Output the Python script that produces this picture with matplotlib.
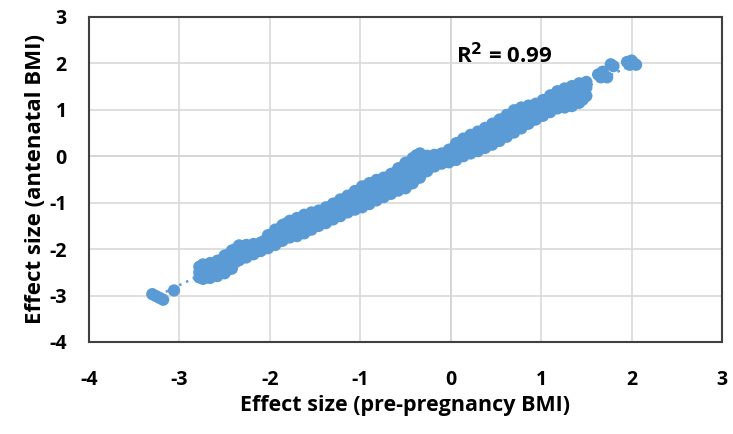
import matplotlib
matplotlib.use("Agg")
import matplotlib.pyplot as plt
import numpy as np

# isolated points at the low end
tail_x = [-3.30, -3.26, -3.22, -3.18, -3.06]
tail_y = [-2.97, -3.01, -3.05, -3.09, -2.89]

# main band: for each x, the upper, middle and lower points
band_x = [-2.78, -2.74, -2.70, -2.66, -2.62, -2.58, -2.54, -2.50, -2.46, -2.42,
          -2.38, -2.34, -2.30, -2.26, -2.22, -2.18, -2.14, -2.10, -2.06, -2.02,
          -1.98, -1.94, -1.90, -1.86, -1.82, -1.78, -1.74, -1.70, -1.66, -1.62,
          -1.58, -1.54, -1.50, -1.46, -1.42, -1.38, -1.34, -1.30, -1.26, -1.22,
          -1.18, -1.14, -1.10, -1.06, -1.02, -0.98, -0.94, -0.90, -0.86, -0.82,
          -0.78, -0.74, -0.70, -0.66, -0.62, -0.58, -0.54, -0.50, -0.46, -0.42,
          -0.38, -0.34, -0.30, -0.26, -0.22, -0.18, -0.14, -0.10, -0.06, -0.02,
          0.02, 0.06, 0.10, 0.14, 0.18, 0.22, 0.26, 0.30, 0.34, 0.38,
          0.42, 0.46, 0.50, 0.54, 0.58, 0.62, 0.66, 0.70, 0.74, 0.78,
          0.82, 0.86, 0.90, 0.94, 0.98, 1.02, 1.06, 1.10, 1.14, 1.18,
          1.22, 1.26, 1.30, 1.34, 1.38, 1.42, 1.46, 1.50]
band_top = [-2.38, -2.33, -2.36, -2.30, -2.32, -2.25, -2.24, -2.14, -2.12, -2.03,
            -2.00, -1.92, -1.96, -1.91, -1.94, -1.89, -1.94, -1.86, -1.82, -1.70,
            -1.68, -1.58, -1.57, -1.48, -1.45, -1.39, -1.40, -1.33, -1.34, -1.26,
            -1.27, -1.21, -1.23, -1.17, -1.18, -1.10, -1.10, -1.02, -1.01, -0.93,
            -0.93, -0.85, -0.84, -0.75, -0.74, -0.65, -0.65, -0.58, -0.58, -0.51,
            -0.53, -0.46, -0.48, -0.38, -0.36, -0.26, -0.24, -0.14, -0.14, -0.04,
            0.02, 0.06, -0.02, 0.01, -0.02, 0.03, 0.00, 0.06, 0.06, 0.14,
            0.16, 0.28, 0.30, 0.38, 0.38, 0.46, 0.46, 0.53, 0.53, 0.61,
            0.61, 0.70, 0.71, 0.79, 0.80, 0.89, 0.90, 0.99, 0.99, 1.05,
            1.03, 1.09, 1.07, 1.13, 1.12, 1.21, 1.22, 1.31, 1.32, 1.40,
            1.39, 1.46, 1.44, 1.51, 1.50, 1.57, 1.55, 1.60]
band_mid = [-2.50, -2.48, -2.55, -2.46, -2.44, -2.42, -2.38, -2.33, -2.28, -2.20,
            -2.12, -2.08, -2.05, -2.03, -2.02, -2.00, -1.99, -1.96, -1.90, -1.84,
            -1.80, -1.74, -1.70, -1.64, -1.58, -1.56, -1.54, -1.52, -1.48, -1.45,
            -1.42, -1.38, -1.35, -1.32, -1.30, -1.27, -1.22, -1.18, -1.14, -1.10,
            -1.06, -1.02, -0.98, -0.95, -0.90, -0.86, -0.82, -0.80, -0.76, -0.72,
            -0.68, -0.66, -0.63, -0.58, -0.54, -0.50, -0.44, -0.40, -0.36, -0.30,
            -0.26, -0.20, -0.16, -0.14, -0.12, -0.10, -0.08, -0.04, -0.02, 0.00,
            0.04, 0.08, 0.12, 0.16, 0.22, 0.26, 0.30, 0.33, 0.36, 0.40,
            0.44, 0.48, 0.52, 0.56, 0.60, 0.66, 0.70, 0.74, 0.78, 0.82,
            0.86, 0.90, 0.94, 0.97, 1.00, 1.04, 1.08, 1.12, 1.18, 1.22,
            1.25, 1.28, 1.30, 1.32, 1.36, 1.40, 1.44, 1.48]
band_low = [-2.61, -2.64, -2.61, -2.62, -2.56, -2.58, -2.51, -2.52, -2.44, -2.42,
            -2.28, -2.24, -2.18, -2.18, -2.11, -2.11, -2.04, -2.04, -1.98, -1.98,
            -1.91, -1.91, -1.83, -1.82, -1.73, -1.75, -1.70, -1.72, -1.65, -1.66,
            -1.59, -1.58, -1.49, -1.50, -1.43, -1.44, -1.36, -1.36, -1.29, -1.29,
            -1.20, -1.21, -1.14, -1.15, -1.09, -1.10, -1.02, -1.03, -0.95, -0.95,
            -0.87, -0.88, -0.80, -0.81, -0.74, -0.74, -0.68, -0.69, -0.60, -0.58,
            -0.48, -0.46, -0.34, -0.32, -0.22, -0.22, -0.14, -0.16, -0.10, -0.13,
            -0.07, -0.08, 0.00, 0.00, 0.07, 0.06, 0.13, 0.11, 0.18, 0.18,
            0.25, 0.25, 0.33, 0.33, 0.42, 0.42, 0.51, 0.51, 0.60, 0.60,
            0.69, 0.70, 0.78, 0.79, 0.87, 0.87, 0.95, 0.95, 1.03, 1.03,
            1.08, 1.05, 1.10, 1.08, 1.15, 1.15, 1.22, 1.30]

# separate clusters at the high end
top_x = [1.63, 1.66, 1.70, 1.68, 1.73, 1.77, 1.80, 1.95, 1.98, 2.00, 2.03, 2.05]
top_y = [1.76, 1.70, 1.74, 1.82, 1.70, 1.98, 1.94, 2.03, 1.97, 2.06, 1.99, 1.97]

r2_text = "R$^\\mathbf{2}$ = 0.99"

x = np.concatenate([tail_x, band_x, band_x, band_x, top_x])
y = np.concatenate([tail_y, band_top, band_mid, band_low, top_y])

blue = "#5B9BD5"
plt.rcParams['font.family'] = ['Open Sans', 'DejaVu Sans']
plt.rcParams['font.weight'] = 'bold'
plt.rcParams['axes.unicode_minus'] = False
plt.rcParams['mathtext.default'] = 'bf'

fig = plt.figure(figsize=(7.33, 4.34), dpi=100)
ax = fig.add_axes([0.1214, 0.212, 0.8636, 0.749])

ax.set_xlim(-4, 3)
ax.set_ylim(-4, 3)
ax.set_xticks(range(-4, 4))
ax.set_yticks(range(-4, 4))
ax.grid(True, color="#D9D9D9", linewidth=1.2, zorder=0)
ax.axhline(0, color="#BFBFBF", linewidth=1.2, zorder=1)
ax.axvline(0, color="#BFBFBF", linewidth=1.2, zorder=1)

ax.scatter(x, y, s=78, color=blue, edgecolors="none", zorder=3)

# linear trendline
k, b = np.polyfit(x, y, 1)
tx = np.array([x.min(), x.max()])
ax.plot(tx, k * tx + b, color=blue, linewidth=1.8, linestyle=(0, (1, 2)), zorder=2)

ax.text(0.055, 2.16, r2_text, fontsize=16, fontweight='bold', va='center', ha='left')

for s in ax.spines.values():
    s.set_color("#404040")
    s.set_linewidth(1.5)
ax.tick_params(length=0, labelsize=14)
ax.tick_params(axis='x', pad=20)
ax.tick_params(axis='y', pad=16)
for lab in ax.get_xticklabels() + ax.get_yticklabels():
    lab.set_fontweight('bold')
ax.set_xlabel("Effect size (pre-pregnancy BMI)", fontsize=15.5, fontweight='bold', labelpad=4)
ax.set_ylabel("Effect size (antenatal BMI)", fontsize=16, fontweight='bold', labelpad=2)

fig.savefig("out.png", dpi=100)
